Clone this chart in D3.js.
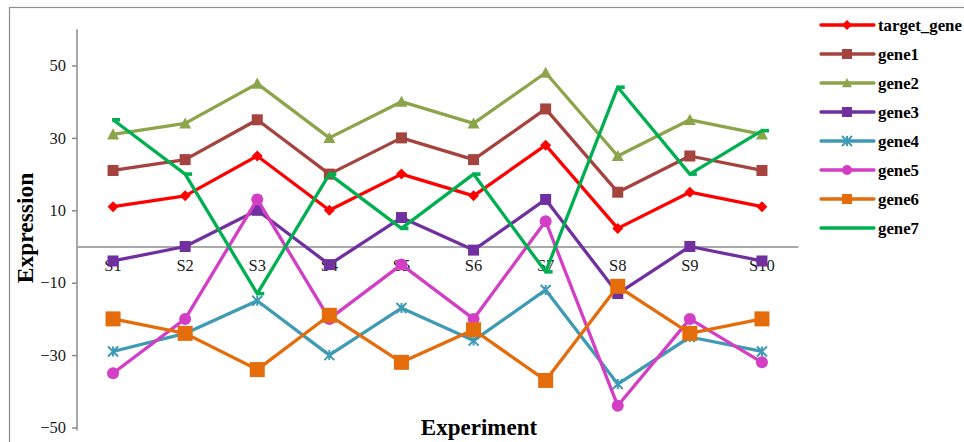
<!DOCTYPE html>
<html>
<head>
<meta charset="utf-8">
<script src="https://cdn.jsdelivr.net/npm/d3@7/dist/d3.min.js"></script>
<style>
  html, body { margin: 0; padding: 0; background: #fff; }
  svg { display: block; }
  text { font-family: "Liberation Serif", "DejaVu Serif", serif; }
</style>
</head>
<body>
<svg id="chart" width="964" height="442"></svg>
<script>
// Experiments along the x axis
const samples = ["S1", "S2", "S3", "S4", "S5", "S6", "S7", "S8", "S9", "S10"];

// Expression per gene across the experiments
const targetGene = [11, 14, 25, 10, 20, 14, 28, 5, 15, 11];
const gene1 = [21, 24, 35, 20, 30, 24, 38, 15, 25, 21];
const gene2 = [31, 34, 45, 30, 40, 34, 48, 25, 35, 31];
const gene3 = [-4, 0, 10, -5, 8, -1, 13, -13, 0, -4];
const gene4 = [-29, -24, -15, -30, -17, -26, -12, -38, -25, -29];
const gene5 = [-35, -20, 13, -20, -5, -20, 7, -44, -20, -32];
const gene6 = [-20, -24, -34, -19, -32, -23, -37, -11, -24, -20];
const gene7 = [35, 20, -13, 20, 5, 20, -7, 44, 20, 32];

const yTicks = [-50, -30, -10, 10, 30, 50];

const series = [
  { name: "target_gene", values: targetGene, color: "#FF0000", marker: "diamond", size: 11 },
  { name: "gene1", values: gene1, color: "#A5433F", marker: "square", size: 11 },
  { name: "gene2", values: gene2, color: "#8CA44A", marker: "triangle", size: 12 },
  { name: "gene3", values: gene3, color: "#7030A0", marker: "square", size: 11 },
  { name: "gene4", values: gene4, color: "#3E9BB3", marker: "asterisk", size: 10 },
  { name: "gene5", values: gene5, color: "#D23EC4", marker: "circle", size: 12 },
  { name: "gene6", values: gene6, color: "#E46C0A", marker: "square", size: 15 },
  { name: "gene7", values: gene7, color: "#00B050", marker: "dash", size: 8 }
];

const svg = d3.select("#chart");

// chart frame
svg.append("rect")
  .attr("x", 9.5).attr("y", 7.5)
  .attr("width", 1000).attr("height", 1000)
  .attr("fill", "none").attr("stroke", "#8c8c8c").attr("stroke-width", 1.2);

const plot = { left: 77, right: 798, top: 30, bottom: 430 };

const x = d3.scaleBand().domain(samples).range([plot.left, plot.right]);
const y = d3.scaleLinear().domain([-50, 60]).range([427.5, 29.3]);
const cx = s => x(s) + x.bandwidth() / 2;

// y axis
const yAxis = svg.append("g")
  .attr("transform", `translate(${plot.left},0)`)
  .call(d3.axisLeft(y).tickValues(yTicks).tickSize(5).tickSizeOuter(0).tickPadding(6));
yAxis.select(".domain").attr("stroke", "#8c8c8c").attr("stroke-width", 1.5)
  .attr("d", `M0,${y(60)}V${y(-50) + 3}`);
yAxis.selectAll(".tick line").attr("stroke", "#8c8c8c").attr("stroke-width", 1.5);
yAxis.selectAll(".tick text")
  .attr("font-family", "'Liberation Serif', serif")
  .attr("font-size", 16.5).attr("fill", "#1a1a1a");

// x axis along zero
const xAxis = svg.append("g")
  .attr("transform", `translate(0,${y(0)})`)
  .call(d3.axisBottom(x).tickSize(0).tickPadding(13));
xAxis.select(".domain").attr("stroke", "#8c8c8c").attr("stroke-width", 1.5);
xAxis.selectAll(".tick text")
  .attr("font-family", "'Liberation Serif', serif")
  .attr("font-size", 16.5).attr("fill", "#1a1a1a");

// marker shapes
function drawMarker(g, type, size, color) {
  const h = size / 2;
  if (type === "square") {
    g.append("rect").attr("x", -h).attr("y", -h).attr("width", size).attr("height", size).attr("fill", color);
  } else if (type === "diamond") {
    g.append("path").attr("d", `M0,${-h}L${h},0L0,${h}L${-h},0Z`).attr("fill", color);
  } else if (type === "triangle") {
    g.append("path").attr("d", `M0,${-h}L${h},${h * 0.85}L${-h},${h * 0.85}Z`).attr("fill", color);
  } else if (type === "circle") {
    g.append("circle").attr("r", h).attr("fill", color);
  } else if (type === "asterisk") {
    const p = `M${-h},${-h}L${h},${h}M${-h},${h}L${h},${-h}M0,${-h}V${h}`;
    g.append("path").attr("d", p).attr("stroke", color).attr("stroke-width", 2).attr("fill", "none");
  } else if (type === "dash") {
    g.append("rect").attr("x", -1).attr("y", -1.8).attr("width", size).attr("height", 3.6).attr("fill", color);
  }
}

const line = d3.line().x((d, i) => cx(samples[i])).y(d => y(d));

// lines first, markers on top in series order
series.forEach(s => {
  svg.append("path")
    .datum(s.values)
    .attr("d", line)
    .attr("fill", "none")
    .attr("stroke", s.color)
    .attr("stroke-width", 3.3)
    .attr("stroke-linejoin", "round");
  s.values.forEach((v, i) => {
    const g = svg.append("g").attr("transform", `translate(${cx(samples[i])},${y(v)})`);
    drawMarker(g, s.marker, s.size, s.color);
  });
});

// axis titles
svg.append("text")
  .attr("transform", `translate(33,228) rotate(-90)`)
  .attr("text-anchor", "middle")
  .attr("font-weight", "bold").attr("font-size", 23.5).attr("fill", "#000")
  .text("Expression");

svg.append("text")
  .attr("x", 479).attr("y", 435)
  .attr("text-anchor", "middle")
  .attr("font-weight", "bold").attr("font-size", 23).attr("fill", "#000")
  .text("Experiment");

// legend
const legend = svg.append("g");
series.forEach((s, i) => {
  const ly = 25 + i * 29;
  const g = legend.append("g").attr("transform", `translate(0,${ly})`);
  g.append("line").attr("x1", 821).attr("x2", 874).attr("y1", 0).attr("y2", 0)
    .attr("stroke", s.color).attr("stroke-width", 3.3).attr("stroke-linecap", "round");
  if (s.marker !== "dash") {
    const m = g.append("g").attr("transform", "translate(847,0)");
    drawMarker(m, s.marker, Math.min(s.size, 10), s.color);
  }
  g.append("text").attr("x", 878).attr("y", 6)
    .attr("font-weight", "bold").attr("font-size", 16.8).attr("fill", "#000")
    .text(s.name);
});
</script>
</body>
</html>
